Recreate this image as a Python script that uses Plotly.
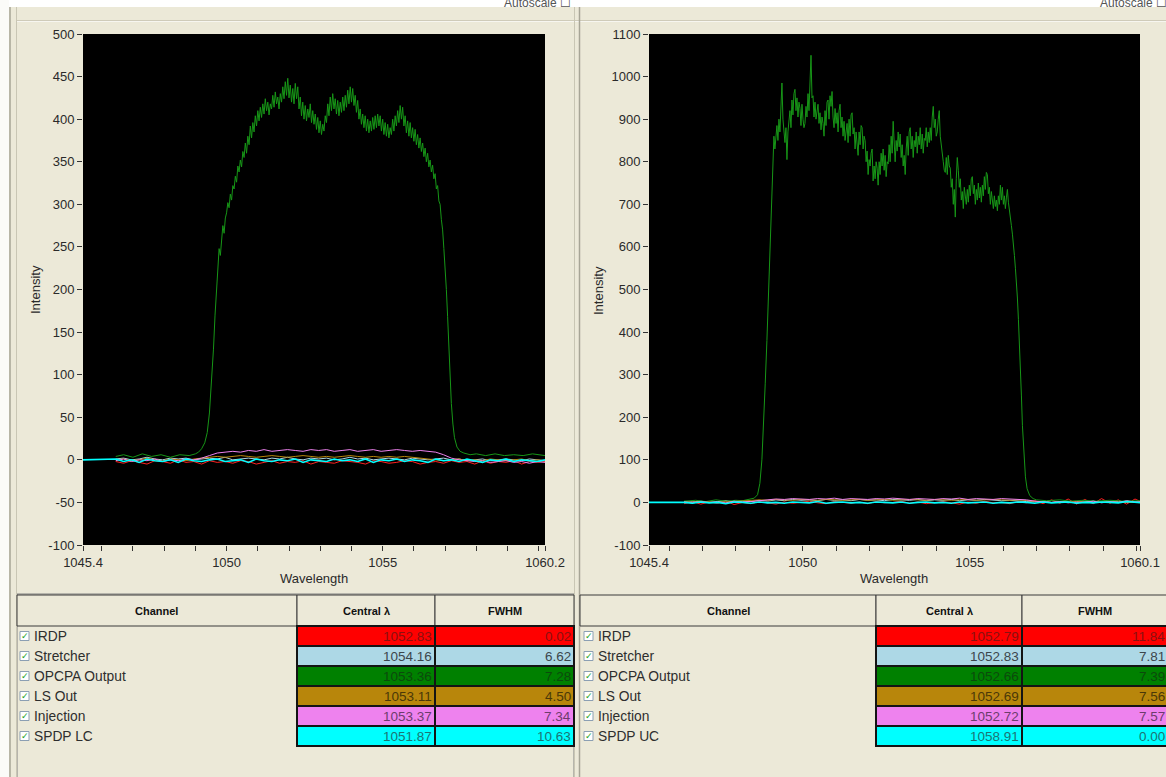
import plotly.graph_objects as go

W, H = 1166, 777
BG = '#ECE9D8'
FONT = 'Liberation Sans, Arial, sans-serif'

# ---------------- axes ----------------
LEFT_WL_RANGE = [1045.4, 1060.2]
RIGHT_WL_RANGE = [1045.4, 1060.1]
LEFT_X_TICKS = [1045.4, 1050, 1055, 1060.2]
RIGHT_X_TICKS = [1045.4, 1050, 1055, 1060.1]
MINOR_X_TICKS = [1046, 1047, 1048, 1049, 1050, 1051, 1052, 1053, 1054, 1055,
                 1056, 1057, 1058, 1059, 1060]
LEFT_Y_RANGE = [-100, 500]
RIGHT_Y_RANGE = [-100, 1100]
LEFT_Y_TICKS = [-100, -50, 0, 50, 100, 150, 200, 250, 300, 350, 400, 450, 500]
RIGHT_Y_TICKS = [-100, 0, 100, 200, 300, 400, 500, 600, 700, 800, 900, 1000, 1100]

# ---------------- spectra ----------------
SPECTRUM_START = 1045.4
BASE_WL = [1046.45, 1046.7, 1046.95, 1047.2, 1047.45, 1047.7, 1047.95, 1048.2, 1048.45, 1048.7,
           1048.95, 1049.2, 1049.45, 1049.7, 1049.95, 1050.2, 1050.45, 1050.7, 1050.95, 1051.2,
           1051.45, 1051.7, 1051.95, 1052.2, 1052.45, 1052.7, 1052.95, 1053.2, 1053.45, 1053.7,
           1053.95, 1054.2, 1054.45, 1054.7, 1054.95, 1055.2, 1055.45, 1055.7, 1055.95, 1056.2,
           1056.45, 1056.7, 1056.95, 1057.2, 1057.45, 1057.7, 1057.95, 1058.2, 1058.45, 1058.7,
           1058.95, 1059.2, 1059.45, 1059.7, 1059.95, 1060.2]

LEFT_IRDP = [-2, -4, -1, -3, -5, -1, -2, -4, 0, -3, -2, -5, -1, -3, -2, -4, -1, -2, -5, -3,
             -1, -4, -2, -3, -1, -5, -2, -3, -4, -1, -2, -3, -5, -1, -2, -4, -3, -1, -2, -5,
             -3, -2, -4, -1, -3, -2, -5, -1, -4, -2, -3, -1, -5, -2, -3, -2]
LEFT_STRETCHER = [1, 2, 0, 1, 3, 1, 0, 2, 1, 2, 0, 1, 2, 1, 3, 0, 1, 2, 1, 0,
                  2, 1, 3, 1, 0, 2, 1, 2, 0, 1, 3, 1, 2, 0, 1, 2, 1, 0, 2, 1,
                  0, 1, 2, 0, 1, -1, 0, 1, -1, 0, 1, 0, -1, 1, 0, -1]
LEFT_LS_OUT = [0, 1, -1, 0, 2, 0, -1, 1, 0, -1, 1, 2, 3, 4, 3, 4, 5, 4, 3, 4,
               5, 4, 3, 4, 5, 4, 3, 4, 3, 4, 5, 4, 3, 4, 3, 4, 3, 4, 3, 2,
               1, 0, -1, 0, 1, -1, 0, -1, 1, 0, -1, 0, 1, -1, 0, -1]
LEFT_INJECTION = [-1, 1, -2, 0, -1, 1, -2, 0, -1, 1, 0, 2, 5, 8, 9, 10, 9, 11, 10, 12,
                  10, 11, 12, 11, 10, 12, 11, 12, 10, 11, 12, 10, 11, 12, 10, 11, 12, 11, 10, 11,
                  10, 9, 6, 2, 0, -1, -2, -1, -3, -2, -1, -3, -2, -4, -2, -3]
LEFT_SPDP = [1, -2, 0, -3, 1, -1, -2, 0, -3, 1, -1, -2, 0, 1, -2, -1, 0, -3, 1, -1,
             -2, 0, -1, 1, -3, 0, -1, -2, 1, -1, 0, -2, 1, -3, 0, -1, 1, -2, 0, -1,
             -3, 1, -1, 0, -2, 1, -1, -3, 0, -1, 1, -2, 0, -1, -2, 0]

RIGHT_IRDP = [-3, 2, -4, 1, -2, 3, -5, 0, -3, 2, -1, -4, 1, -2, 0, 3, -1, -3, 2, 0,
              -2, 1, -3, 2, -1, 0, 3, -2, 1, -3, 0, 2, -1, -4, 1, -2, 3, -1, 0, -3,
              2, -1, 4, -3, 6, -2, 8, -4, 7, -3, 9, -2, 6, -4, 8, -1]
RIGHT_STRETCHER = [2, 1, 3, 0, 2, 4, 1, 3, 2, 5, 3, 6, 4, 7, 5, 6, 4, 7, 5, 6,
                   4, 7, 5, 6, 4, 7, 6, 5, 7, 4, 6, 5, 7, 4, 6, 5, 7, 6, 4, 5,
                   3, 2, 1, 2, 0, 1, 2, 0, 1, 3, 0, 1, 2, 0, 1, 0]
RIGHT_LS_OUT = [1, 0, 2, 1, 0, 1, 2, 3, 5, 6, 5, 7, 6, 5, 7, 6, 5, 7, 6, 5,
                6, 7, 5, 6, 7, 5, 6, 7, 6, 5, 7, 6, 5, 6, 7, 5, 6, 7, 6, 5,
                6, 4, 2, 1, 0, 1, 0, 2, 1, 0, 1, 2, 0, 1, 0, 1]
RIGHT_INJECTION = [1, -1, 2, 0, 1, -1, 3, 1, 2, 4, 6, 8, 7, 9, 8, 7, 9, 8, 10, 7,
                   9, 8, 7, 9, 8, 10, 8, 7, 9, 8, 7, 9, 8, 10, 7, 9, 8, 7, 9, 8,
                   7, 6, 3, 1, 0, 2, -1, 1, 0, 3, -1, 2, 0, 4, 1, 2]
RIGHT_SPDP = [0, -2, 1, -1, 0, -3, 1, 0, -2, 1, -1, 0, -2, 1, 0, -1, 2, -2, 0, 1,
              -1, 0, -2, 1, 0, -1, 1, -2, 0, 1, -1, 0, -2, 1, -1, 0, 1, -2, 0, -1,
              1, 0, -2, 1, -1, 0, 1, -2, 0, -1, 1, 0, -1, 2, 0, -1]

# OPCPA output (wavelength, intensity) pairs
LEFT_OPCPA = [
    (1046.45, 4), (1046.7, 6), (1047.0, 3), (1047.3, 7), (1047.6, 4), (1047.9, 6), (1048.2, 3),
    (1048.5, 6), (1048.8, 5), (1049.0, 7), (1049.1, 9), (1049.2, 13), (1049.3, 20), (1049.38, 32),
    (1049.45, 55), (1049.52, 90), (1049.58, 130), (1049.63, 170), (1049.68, 205), (1049.72, 228),
    (1049.76, 248), (1049.80, 240), (1049.84, 262), (1049.88, 275), (1049.92, 266), (1049.96, 284),
    (1050.00, 290), (1050.04, 302), (1050.08, 296), (1050.12, 312), (1050.16, 305), (1050.20, 322),
    (1050.24, 318), (1050.28, 333), (1050.32, 326), (1050.36, 345), (1050.40, 338), (1050.44, 352),
    (1050.48, 344), (1050.52, 362), (1050.56, 355), (1050.60, 372), (1050.64, 360), (1050.68, 380),
    (1050.72, 370), (1050.76, 392), (1050.80, 378), (1050.84, 396), (1050.88, 385), (1050.92, 404),
    (1050.96, 392), (1051.00, 410), (1051.04, 398), (1051.08, 414), (1051.12, 402), (1051.16, 418),
    (1051.20, 406), (1051.24, 424), (1051.28, 410), (1051.32, 420), (1051.36, 405), (1051.40, 418),
    (1051.44, 412), (1051.48, 428), (1051.52, 414), (1051.56, 432), (1051.60, 418), (1051.64, 426),
    (1051.68, 412), (1051.72, 430), (1051.76, 420), (1051.80, 438), (1051.84, 424), (1051.88, 444),
    (1051.92, 428), (1051.96, 448), (1052.00, 425), (1052.04, 440), (1052.08, 420), (1052.12, 436),
    (1052.16, 418), (1052.20, 442), (1052.24, 424), (1052.28, 438), (1052.32, 412), (1052.36, 426),
    (1052.40, 404), (1052.44, 420), (1052.48, 400), (1052.52, 416), (1052.56, 398), (1052.60, 412),
    (1052.64, 402), (1052.68, 418), (1052.72, 396), (1052.76, 410), (1052.80, 394), (1052.84, 406),
    (1052.88, 388), (1052.92, 402), (1052.96, 384), (1053.00, 398), (1053.04, 382), (1053.08, 394),
    (1053.12, 386), (1053.16, 404), (1053.20, 396), (1053.24, 418), (1053.28, 404), (1053.32, 426),
    (1053.36, 410), (1053.40, 430), (1053.44, 412), (1053.48, 424), (1053.52, 406), (1053.56, 422),
    (1053.60, 404), (1053.64, 420), (1053.68, 408), (1053.72, 426), (1053.76, 410), (1053.80, 428),
    (1053.84, 414), (1053.88, 434), (1053.92, 418), (1053.96, 438), (1054.00, 420), (1054.04, 436),
    (1054.08, 416), (1054.12, 428), (1054.16, 408), (1054.20, 422), (1054.24, 400), (1054.28, 412),
    (1054.32, 394), (1054.36, 406), (1054.40, 390), (1054.44, 404), (1054.48, 386), (1054.52, 400),
    (1054.56, 384), (1054.60, 398), (1054.64, 386), (1054.68, 402), (1054.72, 388), (1054.76, 404),
    (1054.80, 390), (1054.84, 406), (1054.88, 392), (1054.92, 404), (1054.96, 386), (1055.00, 400),
    (1055.04, 382), (1055.08, 396), (1055.12, 380), (1055.16, 394), (1055.20, 378), (1055.24, 390),
    (1055.28, 382), (1055.32, 400), (1055.36, 386), (1055.40, 404), (1055.44, 392), (1055.48, 410),
    (1055.52, 396), (1055.56, 416), (1055.60, 400), (1055.64, 414), (1055.68, 392), (1055.72, 404),
    (1055.76, 384), (1055.80, 398), (1055.84, 380), (1055.88, 396), (1055.92, 378), (1055.96, 390),
    (1056.00, 374), (1056.04, 388), (1056.08, 370), (1056.12, 382), (1056.16, 366), (1056.20, 378),
    (1056.24, 362), (1056.28, 372), (1056.32, 356), (1056.36, 366), (1056.40, 350), (1056.44, 360),
    (1056.48, 344), (1056.52, 352), (1056.56, 338), (1056.60, 346), (1056.64, 330), (1056.68, 336),
    (1056.72, 318), (1056.76, 322), (1056.80, 304), (1056.84, 300), (1056.88, 282), (1056.92, 270),
    (1056.96, 248), (1057.00, 228), (1057.04, 200), (1057.08, 168), (1057.12, 130), (1057.16, 95),
    (1057.20, 66), (1057.25, 42), (1057.30, 26), (1057.38, 15), (1057.48, 10), (1057.6, 8),
    (1057.8, 6), (1058.0, 7), (1058.3, 5), (1058.6, 7), (1058.9, 5), (1059.2, 6), (1059.5, 5),
    (1059.8, 7), (1060.2, 5),
]

RIGHT_OPCPA = [
    (1046.45, 3), (1046.8, 5), (1047.1, 2), (1047.4, 6), (1047.7, 3), (1048.0, 5), (1048.2, 4),
    (1048.4, 7), (1048.55, 10), (1048.65, 18), (1048.72, 45), (1048.78, 100), (1048.84, 190),
    (1048.88, 280), (1048.93, 380), (1048.97, 470), (1049.00, 540), (1049.04, 640), (1049.08, 700),
    (1049.11, 790), (1049.14, 860), (1049.17, 830), (1049.20, 870), (1049.23, 885), (1049.26, 850),
    (1049.29, 900), (1049.32, 870), (1049.35, 930), (1049.38, 985), (1049.41, 900), (1049.44, 870),
    (1049.47, 845), (1049.50, 880), (1049.53, 805), (1049.56, 870), (1049.59, 900), (1049.62, 920),
    (1049.65, 880), (1049.68, 945), (1049.71, 910), (1049.74, 960), (1049.77, 970), (1049.80, 920),
    (1049.83, 950), (1049.86, 905), (1049.89, 940), (1049.92, 925), (1049.95, 885), (1049.98, 935),
    (1050.01, 900), (1050.04, 880), (1050.07, 890), (1050.10, 930), (1050.13, 905), (1050.16, 960),
    (1050.19, 920), (1050.22, 975), (1050.25, 1050), (1050.28, 950), (1050.31, 955), (1050.34, 905),
    (1050.37, 940), (1050.40, 900), (1050.43, 925), (1050.46, 935), (1050.49, 890), (1050.52, 915),
    (1050.55, 875), (1050.58, 905), (1050.61, 890), (1050.64, 860), (1050.67, 920), (1050.70, 885),
    (1050.73, 940), (1050.76, 945), (1050.79, 900), (1050.82, 955), (1050.85, 930), (1050.88, 965),
    (1050.91, 905), (1050.94, 880), (1050.97, 925), (1051.00, 890), (1051.03, 915), (1051.06, 870),
    (1051.09, 920), (1051.12, 935), (1051.15, 880), (1051.18, 905), (1051.21, 860), (1051.24, 895),
    (1051.27, 850), (1051.30, 880), (1051.33, 890), (1051.36, 845), (1051.39, 900), (1051.42, 860),
    (1051.45, 910), (1051.48, 915), (1051.51, 865), (1051.54, 880), (1051.57, 830), (1051.60, 870),
    (1051.63, 850), (1051.66, 815), (1051.69, 870), (1051.72, 840), (1051.75, 885), (1051.78, 880),
    (1051.81, 830), (1051.84, 860), (1051.87, 850), (1051.90, 800), (1051.93, 825), (1051.96, 770),
    (1051.99, 805), (1052.02, 790), (1052.05, 820), (1052.08, 830), (1052.11, 755), (1052.14, 790),
    (1052.17, 760), (1052.20, 800), (1052.23, 785), (1052.26, 745), (1052.29, 800), (1052.32, 770),
    (1052.35, 820), (1052.38, 790), (1052.41, 830), (1052.44, 780), (1052.47, 815), (1052.50, 765),
    (1052.53, 800), (1052.56, 795), (1052.59, 840), (1052.62, 800), (1052.65, 860), (1052.68, 820),
    (1052.71, 895), (1052.74, 840), (1052.77, 800), (1052.80, 850), (1052.83, 825), (1052.86, 870),
    (1052.89, 835), (1052.92, 865), (1052.95, 810), (1052.98, 840), (1053.01, 790), (1053.04, 815),
    (1053.07, 770), (1053.10, 830), (1053.13, 860), (1053.16, 815), (1053.19, 870), (1053.22, 880),
    (1053.25, 830), (1053.28, 860), (1053.31, 810), (1053.34, 850), (1053.37, 835), (1053.40, 870),
    (1053.43, 820), (1053.46, 860), (1053.49, 840), (1053.52, 880), (1053.55, 830), (1053.58, 865),
    (1053.61, 820), (1053.64, 855), (1053.67, 850), (1053.70, 880), (1053.73, 835), (1053.76, 870),
    (1053.79, 845), (1053.82, 880), (1053.85, 850), (1053.88, 905), (1053.91, 930), (1053.94, 880),
    (1053.97, 900), (1054.00, 860), (1054.03, 870), (1054.06, 900), (1054.09, 920), (1054.12, 860),
    (1054.15, 835), (1054.18, 825), (1054.21, 800), (1054.24, 780), (1054.27, 775), (1054.30, 810),
    (1054.33, 770), (1054.36, 815), (1054.39, 790), (1054.42, 785), (1054.45, 740), (1054.48, 760),
    (1054.51, 700), (1054.54, 735), (1054.57, 670), (1054.60, 760), (1054.63, 810), (1054.66, 780),
    (1054.69, 740), (1054.72, 760), (1054.75, 710), (1054.78, 730), (1054.81, 690), (1054.84, 740),
    (1054.87, 715), (1054.90, 700), (1054.93, 735), (1054.96, 705), (1054.99, 745), (1055.02, 720),
    (1055.05, 760), (1055.08, 765), (1055.11, 725), (1055.14, 745), (1055.17, 700), (1055.20, 735),
    (1055.23, 710), (1055.26, 750), (1055.29, 715), (1055.32, 740), (1055.35, 705), (1055.38, 745),
    (1055.41, 720), (1055.44, 765), (1055.47, 735), (1055.50, 775), (1055.53, 770), (1055.56, 725),
    (1055.59, 740), (1055.62, 700), (1055.65, 730), (1055.68, 705), (1055.71, 690), (1055.74, 720),
    (1055.77, 695), (1055.80, 710), (1055.83, 685), (1055.86, 720), (1055.89, 700), (1055.92, 745),
    (1055.95, 710), (1055.98, 740), (1056.01, 700), (1056.04, 720), (1056.07, 690), (1056.10, 715),
    (1056.13, 735), (1056.16, 705), (1056.19, 690), (1056.22, 665), (1056.25, 650), (1056.28, 630),
    (1056.31, 610), (1056.34, 580), (1056.37, 550), (1056.40, 520), (1056.43, 480), (1056.46, 430),
    (1056.49, 380), (1056.52, 320), (1056.55, 250), (1056.58, 180), (1056.62, 110), (1056.67, 60),
    (1056.72, 32), (1056.80, 16), (1056.9, 9), (1057.0, 6), (1057.3, 4), (1057.7, 6), (1058.0, 3),
    (1058.4, 5), (1058.8, 3), (1059.2, 5), (1059.6, 3), (1060.1, 4),
]

# ---------------- tables ----------------
TABLE_HEADER = ['Channel', 'Central \u03bb', 'FWHM']
CHANNELS_LEFT = ['IRDP', 'Stretcher', 'OPCPA Output', 'LS Out', 'Injection', 'SPDP LC']
CENTRAL_LEFT = ['1052.83', '1054.16', '1053.36', '1053.11', '1053.37', '1051.87']
FWHM_LEFT = ['0.02', '6.62', '7.28', '4.50', '7.34', '10.63']
CHANNELS_RIGHT = ['IRDP', 'Stretcher', 'OPCPA Output', 'LS Out', 'Injection', 'SPDP UC']
CENTRAL_RIGHT = ['1052.79', '1052.83', '1052.66', '1052.69', '1052.72', '1058.91']
FWHM_RIGHT = ['11.84', '7.81', '7.39', '7.56', '7.57', '0.00']

CHANNEL_COLORS = ['#ff0000', '#add8e6', '#008000', '#b8860b', '#ee82ee', '#00ffff']
CHANNEL_TEXT = ['#8a1010', '#3c464c', '#0c4a0c', '#4a3808', '#6c3c6c', '#1c7474']
LINE_COLORS = ['#ff2020', '#add8e6', '#179617', '#b8860b', '#ee82ee', '#00ffff']


def px_x(x):
    return x / W


def px_y(y):
    return 1 - y / H


fig = go.Figure()
shapes = []
annotations = []


def add_spectra(axis_suffix, irdp, stretcher, opcpa, ls_out, injection, spdp):
    xa = 'x' + axis_suffix
    ya = 'y' + axis_suffix
    series = [
        (BASE_WL, irdp, LINE_COLORS[0], 1),
        (BASE_WL, stretcher, LINE_COLORS[1], 1),
        ([p[0] for p in opcpa], [p[1] for p in opcpa], LINE_COLORS[2], 1),
        (BASE_WL, ls_out, LINE_COLORS[3], 1),
        (BASE_WL, injection, LINE_COLORS[4], 1),
        ([SPECTRUM_START] + BASE_WL, [0] + spdp, LINE_COLORS[5], 1.6),
    ]
    for xs, ys, col, wd in series:
        n = min(len(xs), len(ys))
        fig.add_trace(go.Scatter(x=list(xs)[:n], y=list(ys)[:n], mode='lines',
                                 line=dict(color=col, width=wd), xaxis=xa, yaxis=ya,
                                 hoverinfo='skip', showlegend=False))


add_spectra('', LEFT_IRDP, LEFT_STRETCHER, LEFT_OPCPA, LEFT_LS_OUT, LEFT_INJECTION, LEFT_SPDP)
add_spectra('2', RIGHT_IRDP, RIGHT_STRETCHER, RIGHT_OPCPA, RIGHT_LS_OUT, RIGHT_INJECTION, RIGHT_SPDP)


def rect(x0, y0, x1, y1, fill, line_col, line_w, layer='above'):
    return dict(type='rect', xref='paper', yref='paper', x0=px_x(x0), x1=px_x(x1),
                y0=px_y(y1), y1=px_y(y0), fillcolor=fill,
                line=dict(color=line_col, width=line_w), layer=layer)


def label(text, x, y, size, color, xanchor='center', bold=False, angle=0):
    if bold:
        text = '<b>%s</b>' % text
    return dict(text=text, x=px_x(x), y=px_y(y), xref='paper', yref='paper',
                xanchor=xanchor, yanchor='middle', showarrow=False, borderpad=0,
                textangle=angle, font=dict(family=FONT, size=size, color=color))


HEADER_TOP, HEADER_BOTTOM, ROW_H = 595, 626, 20


def add_table(edges, chk_x, channels, central, fwhm):
    for j, head in enumerate(TABLE_HEADER):
        shapes.append(rect(edges[j], HEADER_TOP, edges[j + 1], HEADER_BOTTOM, BG, '#3a3a3a', 1))
        annotations.append(label(head, (edges[j] + edges[j + 1]) / 2,
                                 (HEADER_TOP + HEADER_BOTTOM) / 2 + 0.5, 11, '#111', bold=True))
    for i, name in enumerate(channels):
        y0 = HEADER_BOTTOM + i * ROW_H
        y1 = y0 + ROW_H
        yc = (y0 + y1) / 2
        shapes.append(rect(chk_x, yc - 4.5, chk_x + 9, yc + 4.5, '#ffffff', '#8c9fb3', 1))
        annotations.append(label('\u2713', chk_x + 4.5, yc, 9, '#21a121'))
        annotations.append(label(name, chk_x + 13, yc, 13.8, '#2e2e2e', xanchor='left'))
        for j, val in ((1, central[i]), (2, fwhm[i])):
            shapes.append(rect(edges[j], y0, edges[j + 1], y1, CHANNEL_COLORS[i], '#141414', 2))
            annotations.append(label(val, edges[j + 1] - 2.5, yc, 13.5, CHANNEL_TEXT[i],
                                     xanchor='right'))


# panel decoration
shapes += [
    rect(0, 0, W, 7, '#ffffff', '#ffffff', 0, 'below'),
    rect(0, 0, 9, H, '#fbfbf8', '#fbfbf8', 0, 'below'),
    dict(type='line', xref='paper', yref='paper', x0=px_x(10), x1=px_x(10), y0=0, y1=px_y(7),
         line=dict(color='#a7a596', width=1.5)),
    dict(type='line', xref='paper', yref='paper', x0=px_x(16.5), x1=px_x(16.5), y0=0,
         y1=px_y(7), line=dict(color='#c9c6b4', width=1)),
    dict(type='line', xref='paper', yref='paper', x0=px_x(17), x1=1, y0=px_y(20.5),
         y1=px_y(20.5), line=dict(color='#cfcbb9', width=1)),
    dict(type='line', xref='paper', yref='paper', x0=px_x(17), x1=1, y0=px_y(21.5),
         y1=px_y(21.5), line=dict(color='#f7f6f0', width=1)),
    dict(type='line', xref='paper', yref='paper', x0=px_x(574.5), x1=px_x(574.5), y0=0,
         y1=px_y(7), line=dict(color='#c9c6b4', width=1)),
    dict(type='line', xref='paper', yref='paper', x0=px_x(579.5), x1=px_x(579.5), y0=0,
         y1=px_y(7), line=dict(color='#a7a596', width=1.5)),
    rect(17, 594, 574, H + 5, 'rgba(0,0,0,0)', '#808080', 1, 'below'),
]

add_table([17, 297, 435, 574], 20, CHANNELS_LEFT, CENTRAL_LEFT, FWHM_LEFT)
add_table([580, 876, 1022, 1168], 584, CHANNELS_RIGHT, CENTRAL_RIGHT, FWHM_RIGHT)

annotations += [
    label('Intensity', 35, 290, 13, '#2a2a2a', angle=-90),
    label('Intensity', 598, 290, 13, '#2a2a2a', angle=-90),
    label('Wavelength', 314, 578, 13, '#2a2a2a'),
    label('Wavelength', 894, 578, 13, '#2a2a2a'),
    label('Autoscale \u2610', 572, 3.5, 12, '#555', xanchor='right'),
    label('Autoscale \u2610', 1168, 3.5, 12, '#555', xanchor='right'),
]

tickfont = dict(family=FONT, size=13, color='#2a2a2a')


def xaxis_cfg(x0, x1, rng, ticks, anchor):
    return dict(domain=[px_x(x0), px_x(x1)], range=rng, tickmode='array', tickvals=ticks,
                ticktext=[('%g' % t) for t in ticks], ticks='outside', ticklen=5,
                tickcolor='#333', tickwidth=1, showgrid=False, zeroline=False, showline=False,
                tickfont=tickfont, fixedrange=True, anchor=anchor, automargin=False,
                minor=dict(tickmode='array', tickvals=MINOR_X_TICKS, ticks='outside',
                           ticklen=5, tickcolor='#333', tickwidth=1, showgrid=False))


def yaxis_cfg(rng, ticks, anchor):
    return dict(domain=[px_y(545), px_y(34)], range=rng, tickmode='array', tickvals=ticks,
                ticktext=[str(t) for t in ticks], ticks='outside', ticklen=5,
                tickcolor='#333', tickwidth=1, showgrid=False, zeroline=False, showline=False,
                tickfont=tickfont, anchor=anchor, fixedrange=True, automargin=False)


fig.update_layout(
    width=W, height=H, autosize=False,
    margin=dict(l=0, r=0, t=0, b=0, pad=0, autoexpand=False),
    paper_bgcolor=BG, plot_bgcolor='#000000',
    font=dict(family=FONT),
    xaxis=xaxis_cfg(83, 545, LEFT_WL_RANGE, LEFT_X_TICKS, 'y'),
    yaxis=yaxis_cfg(LEFT_Y_RANGE, LEFT_Y_TICKS, 'x'),
    xaxis2=xaxis_cfg(649, 1140, RIGHT_WL_RANGE, RIGHT_X_TICKS, 'y2'),
    yaxis2=yaxis_cfg(RIGHT_Y_RANGE, RIGHT_Y_TICKS, 'x2'),
    shapes=shapes, annotations=annotations,
    showlegend=False,
)

fig.write_html('out.html', config=dict(displayModeBar=False),
               post_script="document.body.style.margin='0px';document.body.style.padding='0px';"
                           "document.body.style.overflow='hidden';")
